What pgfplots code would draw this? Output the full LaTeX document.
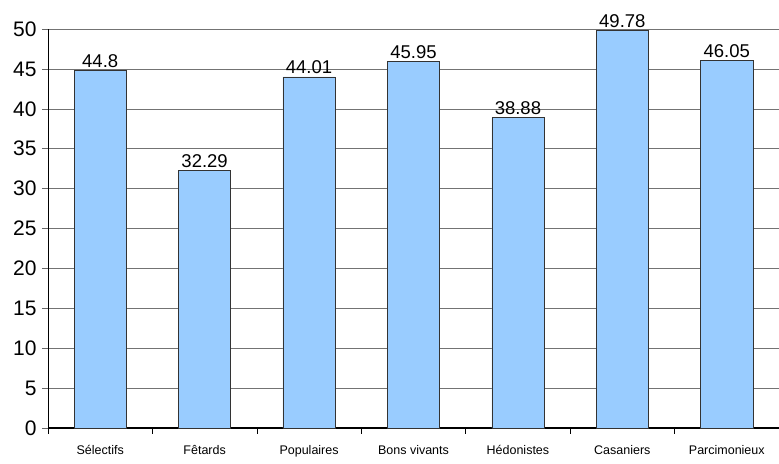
\documentclass[border=0pt]{standalone}
\usepackage{pgfplots}
\pgfplotsset{compat=1.18}
\usepackage{fontspec}
\setmainfont{Liberation Sans}
\definecolor{barblue}{HTML}{99CCFF}
\begin{document}
\begin{tikzpicture}
\path[use as bounding box] (0,0) rectangle (779bp,464bp);
\begin{axis}[
  at={(48bp,36bp)}, anchor=south west,
  scale only axis, width=731bp, height=399bp,
  xmin=-0.5, xmax=6.5, ymin=0, ymax=50,
  axis x line*=bottom, axis y line*=left,
  axis line style={-, black},
  x axis line style={line width=1.2pt},
  xtick={0,...,6},
  xticklabels={Sélectifs, Fêtards, Populaires, Bons vivants, Hédonistes, Casaniers, Parcimonieux},
  major x tick style={draw=none},
  minor xtick={-0.5,0.5,...,5.5},
  minor x tick style={black, line width=0.6pt},
  minor tick length=6bp,
  x tick label style={font=\fontsize{12.5bp}{14bp}\selectfont, yshift=-8bp},
  ytick={0,5,...,50},
  y tick label style={font=\fontsize{21bp}{24bp}\selectfont, xshift=-2bp},
  /pgf/number format/assume math mode=true,
  tick align=outside,
  major tick length=6bp,
  y tick style={black!60, line width=0.6pt},
  ymajorgrids, grid style={black!55, line width=0.6pt},
  ybar, bar width=0.5,
  nodes near coords,
  every node near coord/.append style={font=\fontsize{18.5bp}{20bp}\selectfont, black, /pgf/number format/assume math mode=true, inner sep=2.5bp},
  point meta=explicit symbolic,
  clip=false,
]
\addplot[fill=barblue, draw=black!80, line width=0.6pt] table[meta=l] {
x y l
0 44.8 44.8
1 32.29 32.29
2 44.01 44.01
3 45.95 45.95
4 38.88 38.88
5 49.78 49.78
6 46.05 46.05
};
\end{axis}
\end{tikzpicture}
\end{document}
